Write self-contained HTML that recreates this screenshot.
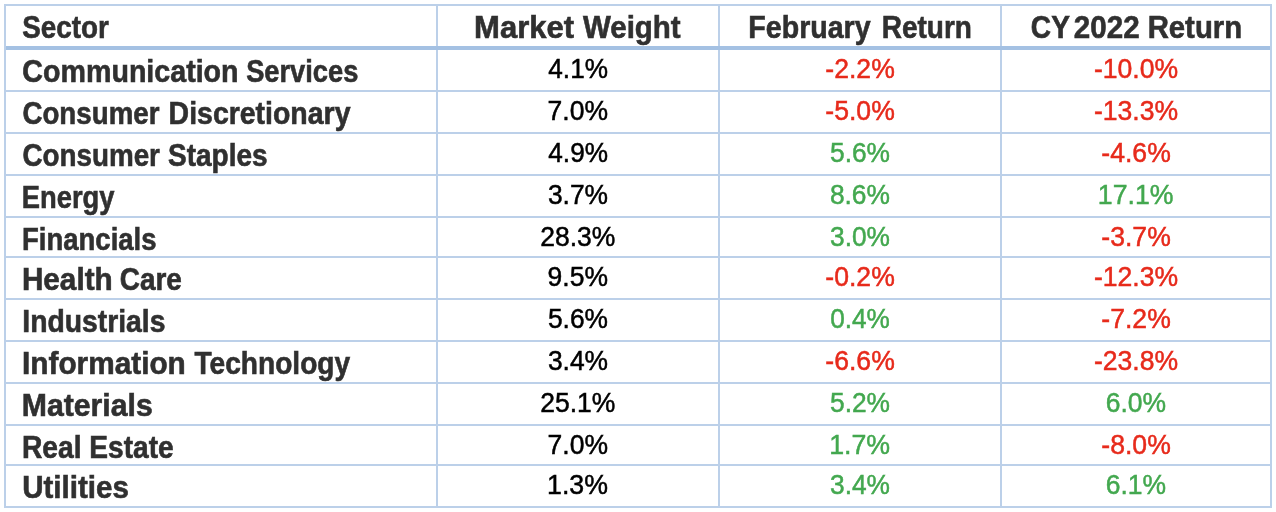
<!DOCTYPE html>
<html lang="en"><head><meta charset="utf-8"><title>Sector returns</title>
<style>
html,body{margin:0;padding:0;background:#fff;}
body{width:1276px;height:512px;overflow:hidden;position:relative;font-family:"Liberation Sans",Arial,Helvetica,sans-serif;}
table{position:absolute;left:4px;top:4px;width:1268px;border-collapse:separate;border-spacing:0;table-layout:fixed;
 border-top:2px solid #BCD0E9;border-left:2px solid #BCD0E9;}
th,td{padding:0;margin:0;border-right:2px solid #BCD0E9;border-bottom:2px solid #BCD0E9;white-space:nowrap;overflow:visible;text-align:center;box-sizing:content-box;}
th{height:44px;line-height:40px;vertical-align:top;border-bottom:0;}
th,td.l{font-weight:bold;font-size:31px;color:#303030;-webkit-text-stroke:0.6px;}
td{height:40px;line-height:40px;font-size:27.5px;color:#000;font-weight:normal;-webkit-text-stroke:0.5px;}
tr.s td{height:38px;line-height:38px;}
th.l,td.l{text-align:left;}
.hl{position:absolute;left:6px;top:46px;width:1264px;height:4px;background:#A4C1E3;}
span{display:inline-block;position:relative;white-space:nowrap;transform-origin:0 50%;}
td span{transform-origin:50% 50%;}
td.l span{transform-origin:0 50%;}
.neg{color:#E72A1B;}
.pos{color:#43A84F;}
</style></head><body>
<table>
<colgroup><col style="width:432px"><col style="width:282px"><col style="width:282px"><col style="width:270px"></colgroup>
<thead><tr>
<th class="l"><span style="top:2px;transform:translateX(16.26px) scaleX(0.8986)">Sector</span></th>
<th><span style="top:2px;transform:translateX(2.07px) scaleX(1.0010)">Market</span> <span style="top:2px;transform:translateX(1.95px) scaleX(0.9508)">Weight</span></th>
<th><span style="top:2px;transform:translateX(9.30px) scaleX(0.9222)">February</span> <span style="top:2px;transform:translateX(0.80px) scaleX(0.9019)">Return</span></th>
<th><span style="top:2px;transform:translateX(9.85px) scaleX(0.9060)">CY</span> <span style="top:2px;transform:translateX(0.85px) scaleX(0.9545)">2022</span> <span style="top:2px;transform:translateX(-3.35px) scaleX(0.9455)">Return</span></th>
</tr></thead><tbody>
<tr>
<td class="l"><span style="top:2px;transform:translateX(16.37px) scaleX(0.9231)">Communication</span> <span style="top:2px;transform:translateX(-2.87px) scaleX(0.8798)">Services</span></td>
<td><span style="top:-1.4px;transform:translateX(-0.21px) scaleX(0.9523)">4.1%</span></td>
<td class="neg"><span style="top:-1.4px;transform:translateX(0.14px) scaleX(0.9671)">-2.2%</span></td>
<td class="neg"><span style="top:-1.4px;transform:translateX(0.48px) scaleX(0.9657)">-10.0%</span></td>
</tr>
<tr>
<td class="l"><span style="top:2px;transform:translateX(16.43px) scaleX(0.8940)">Consumer</span> <span style="top:2px;transform:translateX(0.61px) scaleX(0.9178)">Discretionary</span></td>
<td><span style="top:-1.4px;transform:translateX(-0.58px) scaleX(0.9638)">7.0%</span></td>
<td class="neg"><span style="top:-1.4px;transform:translateX(0.14px) scaleX(0.9671)">-5.0%</span></td>
<td class="neg"><span style="top:-1.4px;transform:translateX(0.48px) scaleX(0.9657)">-13.3%</span></td>
</tr>
<tr>
<td class="l"><span style="top:2px;transform:translateX(16.43px) scaleX(0.8970)">Consumer</span> <span style="top:2px;transform:translateX(-0.03px) scaleX(0.9034)">Staples</span></td>
<td><span style="top:-1.4px;transform:translateX(-0.21px) scaleX(0.9523)">4.9%</span></td>
<td class="pos"><span style="top:-1.4px;transform:translateX(-0.33px) scaleX(0.9584)">5.6%</span></td>
<td class="neg"><span style="top:-1.4px;transform:translateX(0.14px) scaleX(0.9671)">-4.6%</span></td>
</tr>
<tr>
<td class="l"><span style="top:2px;transform:translateX(15.87px) scaleX(0.8814)">Energy</span></td>
<td><span style="top:-1.4px;transform:translateX(-0.38px) scaleX(0.9596)">3.7%</span></td>
<td class="pos"><span style="top:-1.4px;transform:translateX(-0.41px) scaleX(0.9587)">8.6%</span></td>
<td class="pos"><span style="top:-1.4px;transform:translateX(-0.33px) scaleX(0.9694)">17.1%</span></td>
</tr>
<tr class="s">
<td class="l"><span style="top:3px;transform:translateX(16.07px) scaleX(0.8867)">Financials</span></td>
<td><span style="top:-0.4px;transform:translateX(-0.21px) scaleX(0.9642)">28.3%</span></td>
<td class="pos"><span style="top:-0.4px;transform:translateX(-0.35px) scaleX(0.9572)">3.0%</span></td>
<td class="neg"><span style="top:-0.4px;transform:translateX(0.14px) scaleX(0.9671)">-3.7%</span></td>
</tr>
<tr>
<td class="l"><span style="top:2px;transform:translateX(15.88px) scaleX(0.9584)">Health</span> <span style="top:2px;transform:translateX(10.71px) scaleX(0.9020)">Care</span></td>
<td><span style="top:-1.4px;transform:translateX(-0.58px) scaleX(0.9625)">9.5%</span></td>
<td class="neg"><span style="top:-1.4px;transform:translateX(0.14px) scaleX(0.9671)">-0.2%</span></td>
<td class="neg"><span style="top:-1.4px;transform:translateX(0.48px) scaleX(0.9657)">-12.3%</span></td>
</tr>
<tr>
<td class="l"><span style="top:2px;transform:translateX(16.26px) scaleX(0.9137)">Industrials</span></td>
<td><span style="top:-1.4px;transform:translateX(-0.35px) scaleX(0.9583)">5.6%</span></td>
<td class="pos"><span style="top:-1.4px;transform:translateX(-0.34px) scaleX(0.9518)">0.4%</span></td>
<td class="neg"><span style="top:-1.4px;transform:translateX(0.14px) scaleX(0.9671)">-7.2%</span></td>
</tr>
<tr>
<td class="l"><span style="top:2px;transform:translateX(16.05px) scaleX(0.9603)">Information</span> <span style="top:2px;transform:translateX(9.38px) scaleX(0.9077)">Technology</span></td>
<td><span style="top:-1.4px;transform:translateX(-0.38px) scaleX(0.9596)">3.4%</span></td>
<td class="neg"><span style="top:-1.4px;transform:translateX(0.14px) scaleX(0.9671)">-6.6%</span></td>
<td class="neg"><span style="top:-1.4px;transform:translateX(0.48px) scaleX(0.9657)">-23.8%</span></td>
</tr>
<tr>
<td class="l"><span style="top:2px;transform:translateX(15.76px) scaleX(0.9742)">Materials</span></td>
<td><span style="top:-1.4px;transform:translateX(-0.21px) scaleX(0.9642)">25.1%</span></td>
<td class="pos"><span style="top:-1.4px;transform:translateX(-0.33px) scaleX(0.9584)">5.2%</span></td>
<td class="pos"><span style="top:-1.4px;transform:translateX(-0.48px) scaleX(0.9626)">6.0%</span></td>
</tr>
<tr class="s">
<td class="l"><span style="top:3px;transform:translateX(15.91px) scaleX(0.9103)">Real</span> <span style="top:3px;transform:translateX(9.28px) scaleX(0.9075)">Estate</span></td>
<td><span style="top:-0.4px;transform:translateX(-0.58px) scaleX(0.9638)">7.0%</span></td>
<td class="pos"><span style="top:-0.4px;transform:translateX(-0.72px) scaleX(0.9722)">1.7%</span></td>
<td class="neg"><span style="top:-0.4px;transform:translateX(0.14px) scaleX(0.9671)">-8.0%</span></td>
</tr>
<tr>
<td class="l"><span style="top:2px;transform:translateX(16.17px) scaleX(0.9525)">Utilities</span></td>
<td><span style="top:-1.4px;transform:translateX(-0.81px) scaleX(0.9716)">1.3%</span></td>
<td class="pos"><span style="top:-1.4px;transform:translateX(-0.35px) scaleX(0.9572)">3.4%</span></td>
<td class="pos"><span style="top:-1.4px;transform:translateX(-0.48px) scaleX(0.9626)">6.1%</span></td>
</tr>
</tbody></table>
<div class="hl"></div>
</body></html>
